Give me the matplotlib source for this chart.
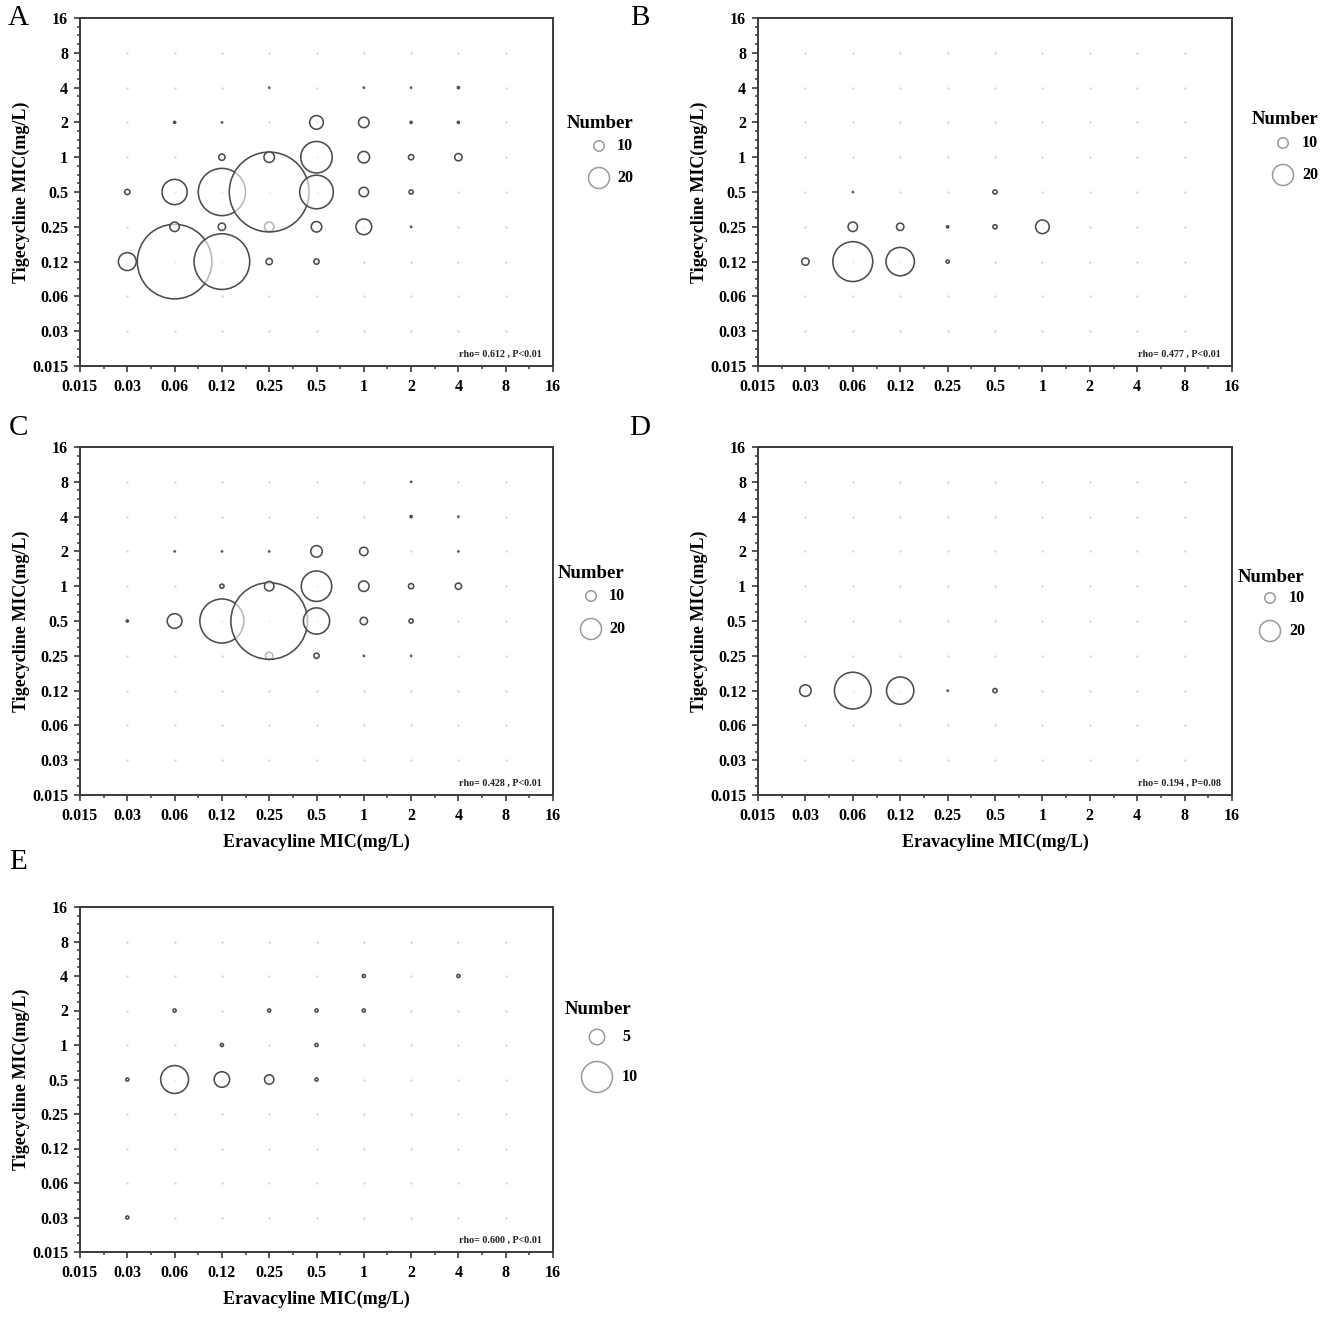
import matplotlib
matplotlib.use("Agg")
import matplotlib.pyplot as plt
from matplotlib.ticker import MultipleLocator

MIC_LEVELS = ["0.015", "0.03", "0.06", "0.12", "0.25", "0.5", "1", "2", "4", "8", "16"]
GRID_LEVELS = MIC_LEVELS[1:10]

# Panel A
a_era = ["0.03", "0.06", "0.12", "0.25", "0.5",
         "0.06", "0.12", "0.25", "0.5", "1", "2",
         "0.03", "0.06", "0.12", "0.25", "0.5", "1", "2",
         "0.12", "0.25", "0.5", "1", "2", "4",
         "0.06", "0.12", "0.5", "1", "2", "4",
         "0.25", "1", "2", "4"]
a_tig = ["0.12"] * 5 + ["0.25"] * 6 + ["0.5"] * 7 + ["1"] * 6 + ["2"] * 6 + ["4"] * 4
a_n = [17, 71, 53, 6, 5,
       9, 7, 9, 10, 15, 1,
       5, 24, 45, 76, 32, 9, 4,
       6, 10, 30, 11, 5, 7,
       2, 1, 13, 10, 2, 2,
       1, 1, 1, 2]

# Panel B
b_era = ["0.03", "0.06", "0.12", "0.25",
         "0.06", "0.12", "0.25", "0.5", "1",
         "0.06", "0.5"]
b_tig = ["0.12"] * 4 + ["0.25"] * 5 + ["0.5"] * 2
b_n = [7, 38, 27, 3,
       9, 7, 2, 4, 13,
       1, 4]

# Panel C
c_era = ["0.25", "0.5", "1", "2",
         "0.03", "0.06", "0.12", "0.25", "0.5", "1", "2",
         "0.12", "0.25", "0.5", "1", "2", "4",
         "0.06", "0.12", "0.25", "0.5", "1", "4",
         "2", "4",
         "2"]
c_tig = ["0.25"] * 4 + ["0.5"] * 7 + ["1"] * 6 + ["2"] * 6 + ["4"] * 2 + ["8"]
c_n = [7, 5, 1, 1,
       2, 14, 42, 73, 25, 7, 4,
       4, 9, 29, 10, 5, 6,
       1, 1, 1, 11, 8, 1,
       2, 1,
       1]

# Panel D
d_era = ["0.03", "0.06", "0.12", "0.25", "0.5"]
d_tig = ["0.12"] * 5
d_n = [11, 35, 26, 1, 4]

# Panel E
e_era = ["0.03",
         "0.03", "0.06", "0.12", "0.25", "0.5",
         "0.12", "0.5",
         "0.06", "0.25", "0.5", "1",
         "1", "4"]
e_tig = ["0.03"] + ["0.5"] * 5 + ["1"] * 2 + ["2"] * 4 + ["4"] * 2
e_n = [1,
       1, 9, 5, 3, 1,
       1, 1,
       1, 1, 1, 1,
       1, 1]

rho_texts = ["rho= 0.612 , P<0.01", "rho= 0.477 , P<0.01", "rho= 0.428 , P<0.01",
             "rho= 0.194 , P=0.08", "rho= 0.600 , P<0.01"]
legend_counts_ad = [10, 20]
legend_counts_e = [5, 10]

W, H, DPI = 1325, 1318, 100
PT = 72 / DPI  # points per pixel

plt.rcParams["font.family"] = ["Liberation Serif", "DejaVu Serif"]
fig = plt.figure(figsize=(W / DPI, H / DPI), dpi=DPI)
fig.patch.set_facecolor("white")

SPINE = "#3a3a3a"


def size_of(count, scale):
    d = count * scale * PT
    return d * d


def panel(box, era, tig, n, scale, rho, letter, letter_xy, xlabel):
    left, top, right, bottom = box
    ax = fig.add_axes([left / W, 1 - bottom / H, (right - left) / W, (bottom - top) / H])
    ax.set_xlim(0, len(MIC_LEVELS) - 1)
    ax.set_ylim(0, len(MIC_LEVELS) - 1)

    # faint grid of empty cells
    gx = [MIC_LEVELS.index(a) for a in GRID_LEVELS for b in GRID_LEVELS]
    gy = [MIC_LEVELS.index(b) for a in GRID_LEVELS for b in GRID_LEVELS]
    ax.scatter(gx, gy, s=(2.2 * PT) ** 2, color="#cdcdcd", linewidths=0, zorder=1)

    pts = sorted(zip(era, tig, n), key=lambda p: (MIC_LEVELS.index(p[1]), MIC_LEVELS.index(p[0])))
    xs = [MIC_LEVELS.index(p[0]) for p in pts]
    ys = [MIC_LEVELS.index(p[1]) for p in pts]
    ss = [size_of(p[2], scale) for p in pts]
    ax.scatter(xs, ys, s=ss, facecolors=(1, 1, 1, 0.6), edgecolors="#4c4c4c",
               linewidths=1.15, zorder=2, clip_on=False)

    ax.set_xticks(range(len(MIC_LEVELS)))
    ax.set_xticklabels(MIC_LEVELS)
    ax.set_yticks(range(len(MIC_LEVELS)))
    ax.set_yticklabels(MIC_LEVELS)
    ax.xaxis.set_minor_locator(MultipleLocator(0.5))
    ax.yaxis.set_minor_locator(MultipleLocator(0.25))
    for lbl in ax.get_xticklabels() + ax.get_yticklabels():
        lbl.set_fontweight("bold")
        lbl.set_fontsize(11.5)
    ax.tick_params(axis="both", which="major", direction="out", length=4.5, width=1.2,
                   color=SPINE)
    ax.tick_params(axis="both", which="minor", direction="out", length=2.3, width=1.1,
                   color=SPINE)
    ax.tick_params(axis="x", which="major", pad=5)
    ax.tick_params(axis="y", which="major", pad=4)
    for sp in ax.spines.values():
        sp.set_color(SPINE)
        sp.set_linewidth(1.4)

    ax.set_ylabel("Tigecycline MIC(mg/L)", fontsize=13, fontweight="bold")
    ax.yaxis.set_label_coords(-50 / (right - left), 0.5)
    if xlabel:
        ax.set_xlabel("Eravacyline MIC(mg/L)", fontsize=13, fontweight="bold")
        ax.xaxis.set_label_coords(0.5, -39 / (bottom - top))

    ax.text(1 - 11 / (right - left), 9 / (bottom - top), rho, transform=ax.transAxes,
            ha="right", va="baseline", fontsize=7.2, fontweight="bold", color="#222222")
    fig.text(letter_xy[0] / W, 1 - letter_xy[1] / H, letter, fontsize=21,
             ha="center", va="center")
    return ax


panel((80, 18, 553, 366), a_era, a_tig, a_n, 1.05, rho_texts[0], "A", (18, 18), False)
panel((758, 18, 1232, 366), b_era, b_tig, b_n, 1.05, rho_texts[1], "B", (640, 18), False)
panel((80, 447, 553, 795), c_era, c_tig, c_n, 1.05, rho_texts[2], "C", (18, 428), True)
panel((758, 447, 1232, 795), d_era, d_tig, d_n, 1.05, rho_texts[3], "D", (640, 428), True)
panel((80, 907, 553, 1252), e_era, e_tig, e_n, 3.1, rho_texts[4], "E", (18, 862), True)

# size legends, drawn on a pixel-space overlay
ov = fig.add_axes([0, 0, 1, 1], facecolor="none")
ov.set_xlim(0, W)
ov.set_ylim(H, 0)
ov.axis("off")

legend_spots = [
    ((600, 124), (599, [146, 178]), 617, legend_counts_ad, 1.05),
    ((1285, 120), (1283, [143, 175]), 1302, legend_counts_ad, 1.05),
    ((591, 574), (591, [596, 629]), 609, legend_counts_ad, 1.05),
    ((1271, 577), (1270, [598, 631]), 1289, legend_counts_ad, 1.05),
    ((598, 1010), (597, [1037, 1077]), 622, legend_counts_e, 3.1),
]
for (tx, ty), (cx, cys), lx, counts, scale in legend_spots:
    ov.text(tx, ty, "Number", ha="center", va="center", fontsize=13.5, fontweight="bold")
    for cy, c in zip(cys, counts):
        ov.scatter([cx], [cy], s=size_of(c, scale), facecolors="none",
                   edgecolors="#9a9a9a", linewidths=1.1)
        ov.text(lx, cy, str(c), ha="left", va="center", fontsize=11.5, fontweight="bold")

fig.savefig("out.png", dpi=DPI, facecolor="white")
